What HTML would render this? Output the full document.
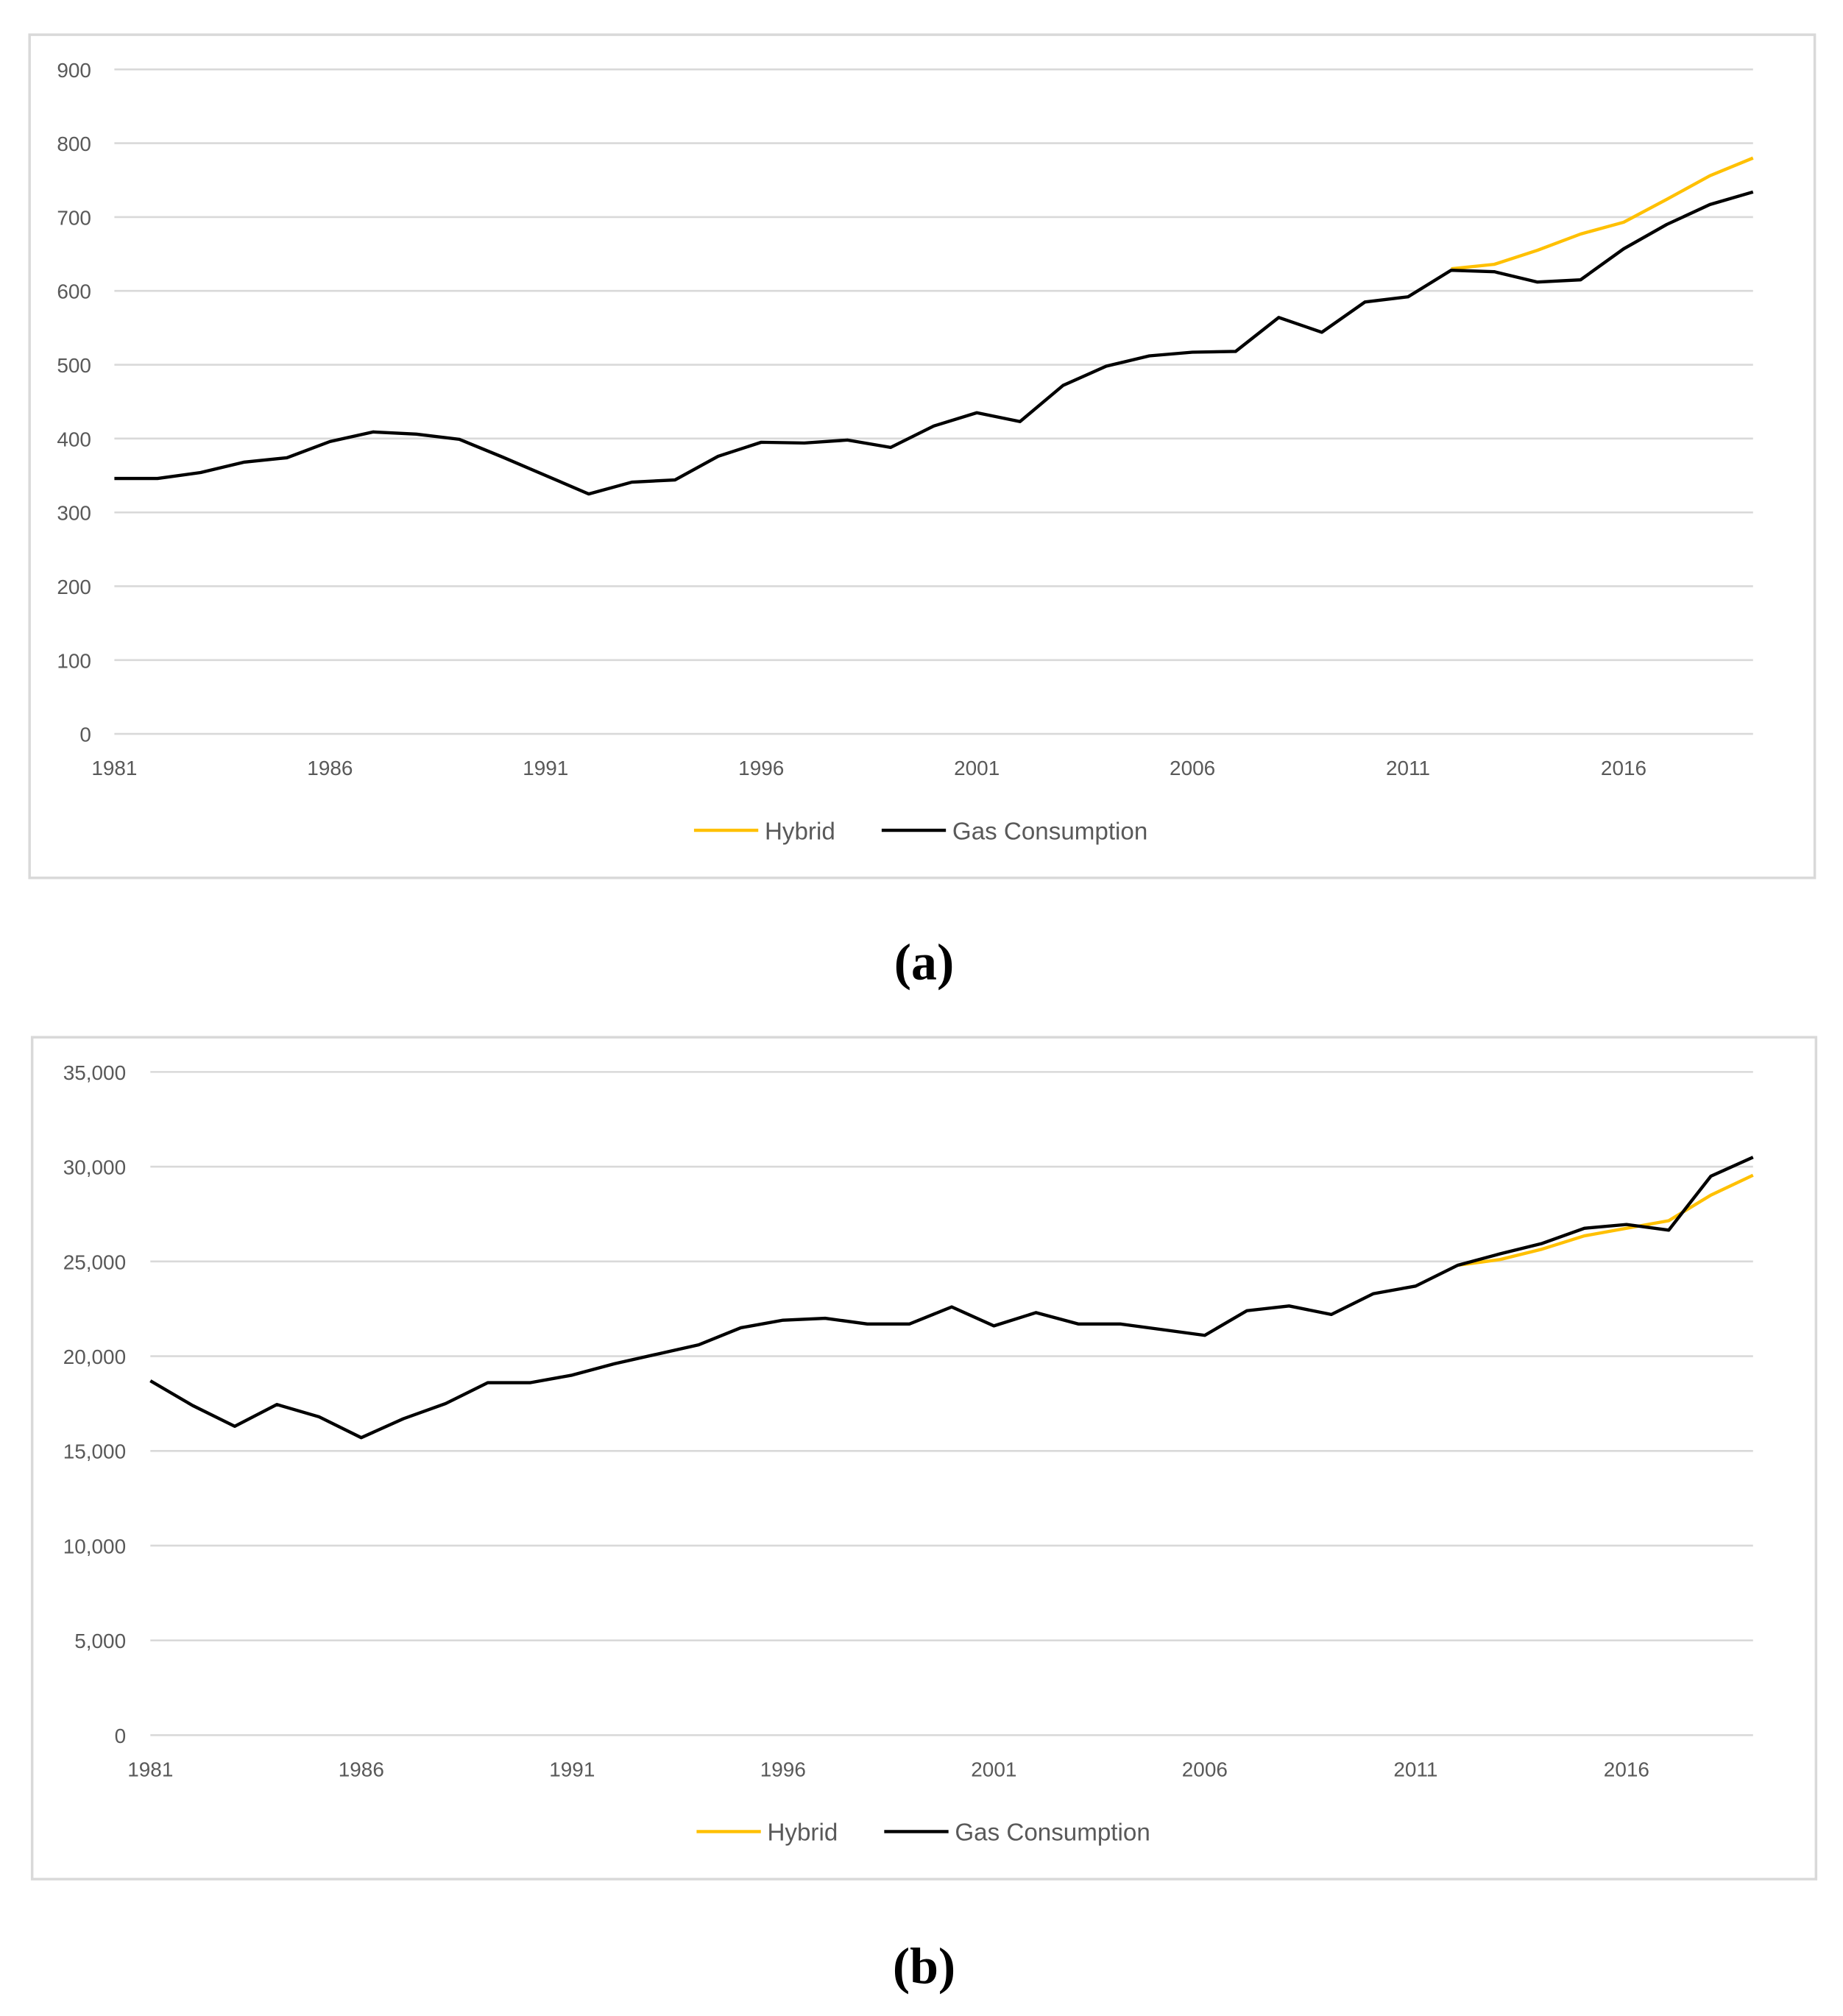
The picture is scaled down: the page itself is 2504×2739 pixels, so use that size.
<!DOCTYPE html>
<html><head><meta charset="utf-8"><style>html,body{margin:0;padding:0;background:#fff}svg{display:block}text{font-family:"Liberation Sans",sans-serif}</style></head>
<body>
<svg id="fig" width="2504" height="2739" viewBox="0 0 1434 1568.5" preserveAspectRatio="none" xmlns="http://www.w3.org/2000/svg">
<rect x="23" y="27" width="1389" height="656" fill="#fff" stroke="#d9d9d9" stroke-width="2"/>
<rect x="25" y="807" width="1388" height="655" fill="#fff" stroke="#d9d9d9" stroke-width="2"/>
<text x="719" y="762" style="font-family:'Liberation Serif',serif" font-size="40" font-weight="bold" text-anchor="middle">(a)</text>
<text x="719" y="1543" style="font-family:'Liberation Serif',serif" font-size="40" font-weight="bold" text-anchor="middle">(b)</text>
</svg>
<script>
const yearsA = [1981,1982,1983,1984,1985,1986,1987,1988,1989,1990,1991,1992,1993,1994,1995,1996,1997,1998,1999,2000,2001,2002,2003,2004,2005,2006,2007,2008,2009,2010,2011,2012,2013,2014,2015,2016,2017,2018,2019];
const gasA = [346,346,354,368,374,396,409,406,399,375,350,325,341,344,376,395,394,398,388,417,435,423,472,498,512,517,518,564,544,585,592,628,626,612,615,657,690,717,734];
const hybridYears = [2012,2013,2014,2015,2016,2017,2018,2019];
const hybridA = [630,636,655,677,693,724,756,780];
const ticksA = [0,100,200,300,400,500,600,700,800,900];
const gasB = [18700,17400,16300,17450,16800,15700,16700,17500,18600,18600,19000,19600,20100,20600,21500,21900,22000,21700,21700,22600,21600,22300,21700,21700,21400,21100,22400,22650,22200,23300,23700,24800,25400,25950,26750,26950,26650,29500,30500];
const hybridB = [24800,25100,25650,26350,26750,27150,28500,29550];
const ticksB = [0,5000,10000,15000,20000,25000,30000,35000];
const xLabels = [1981,1986,1991,1996,2001,2006,2011,2016];

const NS="http://www.w3.org/2000/svg";
const svg=document.getElementById('fig');
function mk(tag,attrs,parent){const e=document.createElementNS(NS,tag);for(const k in attrs)e.setAttribute(k,attrs[k]);(parent||svg).appendChild(e);return e;}

function chart(id,cfg,gas,hyb,ticks,fmt){
  const g=mk('g',{});
  
  
  const xS=y=>cfg.x0+(y-1981)/(2019-1981)*(cfg.x1-cfg.x0);
  const yS=v=>cfg.y0-v/cfg.vmax*(cfg.y0-cfg.ytop);
  ticks.forEach(t=>{
    const l=mk('line',{x1:cfg.gx,x2:cfg.x1,y1:yS(t),y2:yS(t),stroke:'#d9d9d9','stroke-width':1.5},g);
    
    
    const tx=mk('text',{x:cfg.lx,y:yS(t)+6,'font-size':16,fill:'#595959','text-anchor':'end'},g);
    
    
    tx.textContent=fmt(t);
  });
  xLabels.forEach(y=>{
    const tx=mk('text',{x:xS(y),y:cfg.y0+32,'font-size':16,fill:'#595959','text-anchor':'middle'},g);
    
    
    tx.textContent=y;
  });
  const hp=mk('polyline',{points:hybridYears.map((y,i)=>xS(y)+','+yS(hyb[i])).join(' '),fill:'none',stroke:'#ffc000','stroke-width':2.5,'stroke-linejoin':'round'},g);
  
  
  const gp=mk('polyline',{points:yearsA.map((y,i)=>xS(y)+','+yS(gas[i])).join(' '),fill:'none',stroke:'#000','stroke-width':2.5,'stroke-linejoin':'round'},g);
  
  
  const ly=cfg.ly;
  const l1=mk('line',{x1:cfg.lgx,x2:cfg.lgx+50,y1:ly,y2:ly,stroke:'#ffc000','stroke-width':2.5},g);
  
  
  const t1=mk('text',{x:cfg.lgx+55,y:ly+7,'font-size':19,fill:'#595959'},g);
  
  
  t1.textContent='Hybrid';
  const l2=mk('line',{x1:cfg.lgx+146,x2:cfg.lgx+196,y1:ly,y2:ly,stroke:'#000','stroke-width':2.5},g);
  
  
  const t2=mk('text',{x:cfg.lgx+201,y:ly+7,'font-size':19,fill:'#595959'},g);
  
  
  t2.textContent='Gas Consumption';
}
chart('chart-a',{x0:89,x1:1364,gx:89,y0:571,ytop:54,vmax:900,lx:71,ly:646,lgx:540},gasA,hybridA,ticksA,t=>String(t));
chart('chart-b',{x0:117,x1:1364,gx:117,y0:1350,ytop:834,vmax:35000,lx:98,ly:1425,lgx:542},gasB,hybridB,ticksB,t=>t.toLocaleString('en-US'));
</script>
</body></html>
